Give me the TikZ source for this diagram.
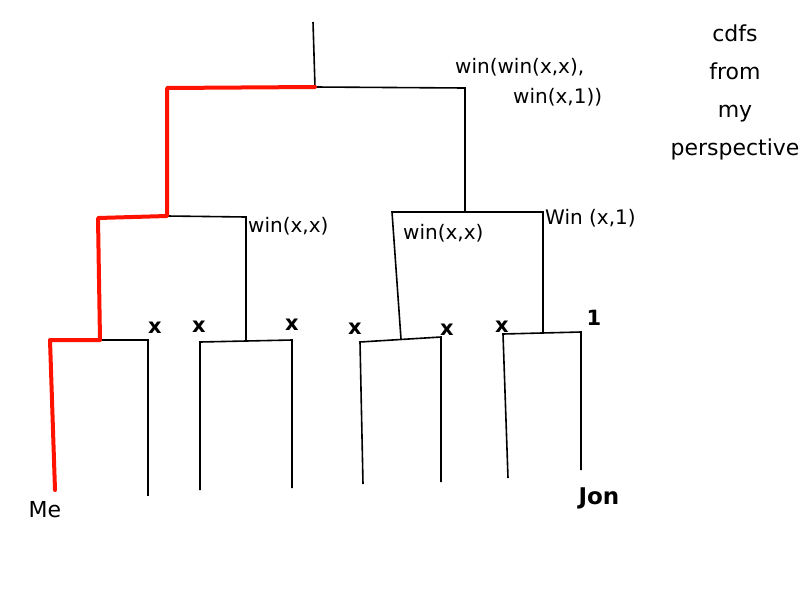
\documentclass[tikz,border=0pt]{standalone}
\usepackage{fontspec}
\setmainfont{DejaVu Sans}
\begin{document}
\begin{tikzpicture}[x=1pt,y=-1pt,
  br/.style={draw=black,line width=1.6pt},
  path/.style={draw=red!85!orange,line width=4pt,line join=round,line cap=round},
  lbl/.style={font=\fontsize{22}{24}\selectfont,inner sep=0pt},
  slbl/.style={font=\fontsize{20}{22}\selectfont,inner sep=0pt,align=left},
  xm/.style={font=\bfseries\fontsize{21}{22}\selectfont,inner sep=0pt}]
\useasboundingbox (0,0) rectangle (800,600);
% coordinates
\coordinate (l1) at (55,490);
\coordinate (l2b) at (148,496);
\coordinate (l3b) at (200,490);
\coordinate (l4b) at (292,488);
\coordinate (l5b) at (363,484);
\coordinate (l6b) at (441,482);
\coordinate (l7b) at (508,478);
\coordinate (l8b) at (581,470);
\coordinate (l1t) at (50,340);
\coordinate (l2t) at (148,340);
\coordinate (l3t) at (200,342);
\coordinate (l4t) at (292,340);
\coordinate (l5t) at (360,342);
\coordinate (l6t) at (441,337);
\coordinate (l7t) at (503,334);
\coordinate (l8t) at (581,332);
\coordinate (a1) at (100,340);
\coordinate (a2) at (246,341);
\coordinate (a3) at (401,339);
\coordinate (a4) at (543,333);
\coordinate (b1) at (98,218);
\coordinate (b1r) at (167,216);
\coordinate (b2) at (246,217);
\coordinate (b3) at (392,212);
\coordinate (b4) at (543,212);
\coordinate (c1) at (167,88);
\coordinate (c1r) at (315,87);
\coordinate (c2) at (465,88);
\coordinate (c2b) at (465,212);
\coordinate (root) at (313,22);
% black bracket lines
\draw[br] (a1) -- (l2t) -- (l2b);
\draw[br] (l3b) -- (l3t) -- (l4t) -- (l4b);
\draw[br] (l5b) -- (l5t) -- (l6t) -- (l6b);
\draw[br] (l7b) -- (l7t) -- (l8t) -- (l8b);
\draw[br] (a2) -- (b2) -- (b1r);
\draw[br] (a3) -- (b3) -- (b4) -- (a4);
\draw[br] (c1r) -- (c2) -- (c2b);
\draw[br] (root) -- (c1r);
% red path
\draw[path] (l1) -- (l1t) -- (a1) -- (b1) -- (b1r) -- (c1) -- (c1r);
% labels
\node[xm] (x1) at (155,328) {x};
\node[xm] (x2) at (199,327) {x};
\node[xm] (x3) at (292,325) {x};
\node[xm] (x4) at (355,329) {x};
\node[xm] (x5) at (447,330) {x};
\node[xm] (x6) at (502,327) {x};
\node[xm] (one) at (594,318) {1};
\node[lbl] (me) at (45,510) {Me};
\node[lbl,font=\bfseries\fontsize{23}{24}\selectfont] (jon) at (599,498) {Jon};
\node[slbl,anchor=north west,align=left] (top) at (455,58) {win(win(x,x),\\[8pt]\hspace*{58pt}win(x,1))};
\node[slbl,anchor=west] (wxx1) at (248,226) {win(x,x)};
\node[slbl,anchor=west] (wxx2) at (403,233) {win(x,x)};
\node[slbl,anchor=west] (wx1) at (545,218) {Win (x,1)};
\node[lbl,align=center] (note) at (735,92) {cdfs\\[14pt]from\\[14pt]my\\[14pt]perspective};
\end{tikzpicture}
\end{document}
